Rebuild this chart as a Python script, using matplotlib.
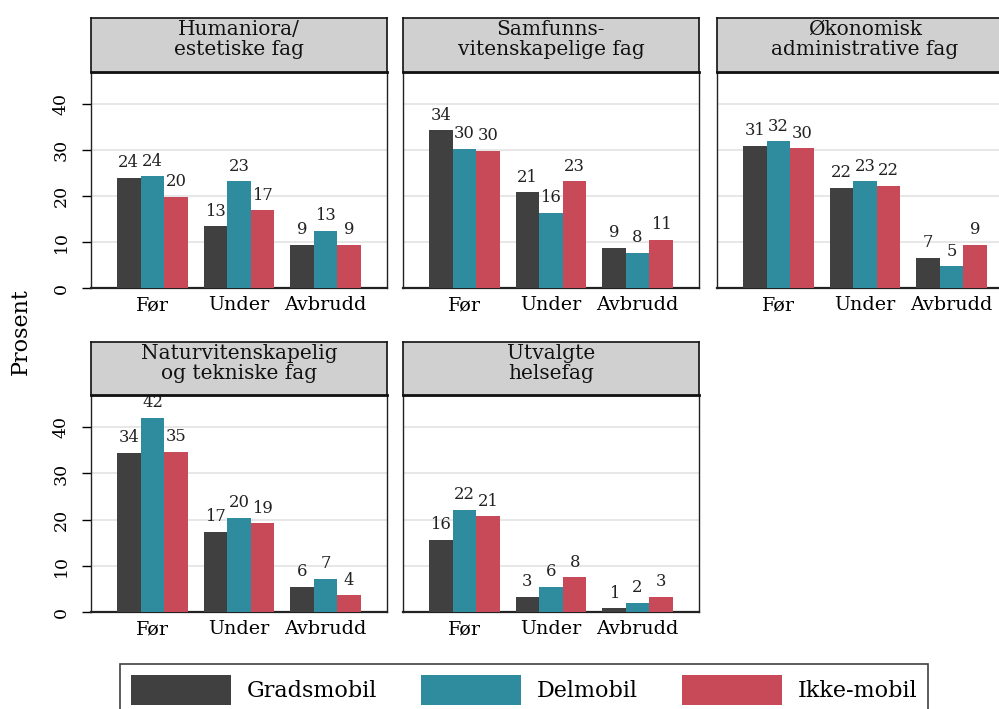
import math
import matplotlib
matplotlib.use("Agg")
import matplotlib.pyplot as plt
import numpy as np
from matplotlib.patches import Patch

# ---- data ----
panels = ["Humaniora/\nestetiske fag",
          "Samfunns-\nvitenskapelige fag",
          "Økonomisk\nadministrative fag",
          "Naturvitenskapelig\nog tekniske fag",
          "Utvalgte\nhelsefag"]
categories = ["Før", "Under", "Avbrudd"]
series = ["Gradsmobil", "Delmobil", "Ikke-mobil"]

gradsmobil = [[23.9, 13.4, 9.3],
              [34.3, 20.8, 8.7],
              [30.9, 21.7, 6.5],
              [34.4, 17.4, 5.5],
              [15.7, 3.2, 0.8]]
delmobil = [[24.3, 23.2, 12.5],
            [30.2, 16.4, 7.6],
            [31.9, 23.2, 4.7],
            [42.1, 20.4, 7.1],
            [22.2, 5.5, 1.9]]
ikke_mobil = [[19.9, 16.9, 9.3],
              [29.9, 23.2, 10.5],
              [30.4, 22.3, 9.3],
              [34.7, 19.2, 3.6],
              [20.7, 7.5, 3.2]]
yticks = [0, 10, 20, 30, 40]

colors = ["#404040", "#2E8C9E", "#C84A59"]
FONT = ["DejaVu Serif"]
plt.rcParams['font.family'] = FONT

W, H = 999, 709
fig = plt.figure(figsize=(W / 100, H / 100), dpi=100)

col_left = [91, 403, 717]
col_w = 296
rows = [(18, 72, 288), (342, 395, 612)]  # strip top, strip bottom / plot top, plot bottom

data = [gradsmobil, delmobil, ikke_mobil]
bw = 0.273
x = np.arange(1, len(categories) + 1)

for p, title in enumerate(panels):
    r, c = divmod(p, 3)
    st, sb, pb = rows[r]
    left = col_left[c] / W
    ax = fig.add_axes([left, 1 - pb / H, col_w / W, (pb - sb) / H])
    sax = fig.add_axes([left, 1 - sb / H, col_w / W, (sb - st) / H])

    for k in range(3):
        vals = data[k][p]
        xs = x + (k - 1) * bw
        ax.bar(xs, vals, width=bw, color=colors[k], zorder=3, linewidth=0)
        for xi, v in zip(xs, vals):
            ax.annotate(str(math.floor(v + 0.5)), (xi, v), xytext=(0, 11),
                        textcoords="offset points", ha="center", va="center",
                        fontsize=11.8, color="#222222", zorder=4)

    ax.set_xlim(0.29, 3.71)
    ax.set_ylim(0, 47)
    ax.set_yticks(yticks)
    ax.set_xticks(x)
    ax.set_xticklabels(categories, fontsize=13.8)
    ax.tick_params(axis="x", length=0, pad=6)
    if c == 0:
        ax.set_yticklabels([str(t) for t in yticks], rotation=90, va="center",
                           fontsize=12.5)
        ax.tick_params(axis="y", length=6.5, width=1, pad=9)
    else:
        ax.tick_params(axis="y", length=0, labelleft=False)
    ax.grid(axis="y", color="#e3e3e3", linewidth=1.2, zorder=0)
    for s in ax.spines.values():
        s.set_linewidth(1.0)
        s.set_color("#222222")
    ax.spines["bottom"].set_linewidth(1.6)

    sax.set_facecolor("#d0d0d0")
    sax.set_xticks([])
    sax.set_yticks([])
    for s in sax.spines.values():
        s.set_linewidth(1.2)
        s.set_color("#111111")
    sax.spines["bottom"].set_linewidth(2.0)
    sax.text(0.5, 0.6, title, ha="center", va="center", fontsize=14.5,
             linespacing=1.08, transform=sax.transAxes, color="#111111")

fig.text(21 / W, 1 - 332 / H, "Prosent", rotation=90, ha="center", va="center",
         fontsize=16)

handles = [Patch(facecolor=colors[k], edgecolor="none") for k in range(3)]
leg = fig.legend(handles, series, loc="upper center", bbox_to_anchor=(524 / W, 1 - 664 / H),
                 ncol=3, fontsize=16, handlelength=4.5, handleheight=1.7,
                 handletextpad=0.7, columnspacing=2.0, frameon=True, fancybox=False,
                 borderpad=0.5, borderaxespad=0)
leg.get_frame().set_edgecolor("#111111")
leg.get_frame().set_linewidth(1.2)

fig.savefig("out.png", dpi=100)
